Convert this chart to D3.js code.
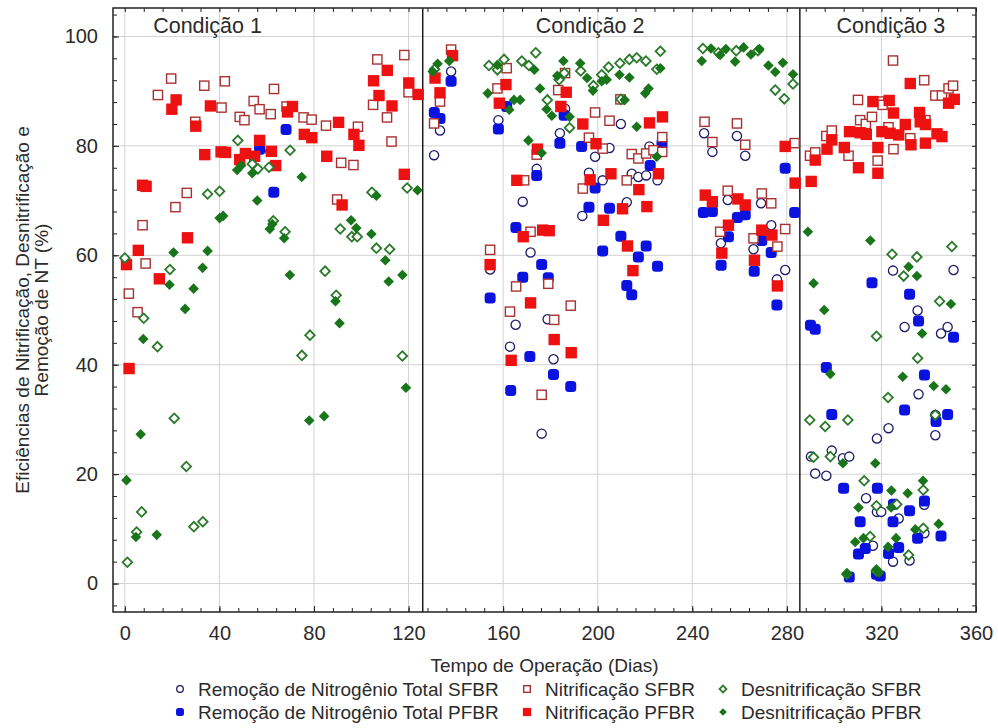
<!DOCTYPE html>
<html lang="pt">
<head>
<meta charset="UTF-8">
<title>Eficiências de Nitrificação, Desnitrificação e Remoção de NT</title>
<script src="https://d3js.org/d3.v7.min.js"></script>
<style>
    body { margin: 0; background: #fff; }
    text { font-family: Arial, "Liberation Sans", sans-serif; fill: #2b2b2b; }
</style>
</head>
<body>
<svg id="main" width="998" height="728"></svg>
<script>
    // [dia, %]
    const remNtSfbr = [[61.5,79],[130.8,78.3],[133.3,82.8],[138,93.6],
        [154.5,57.4],[158,84.7],[168.3,69.8],[171.6,60.5],[174.2,75.8],[184,82.3],[186.2,86.8],[198.9,78],[196.3,75.1],
        [202.1,73.7],[205,79.6],[209.8,84],[193.5,67.2],[212.3,69.7],[214.4,74.9],[217.2,74.3],[220.5,74.6],[221.9,79.9],
        [225.3,73.7],[165.3,47.3],[162.9,43.3],[181.3,41],[176.3,27.4],[178.8,48.3],
        [245,82.3],[248.5,78.9],[258.9,81.8],[262.4,78.2],[255,70.1],[252.1,62.2],[269.1,69.5],[273.4,65.5],[265.9,61.1],
        [275.8,55.6],[279.3,57.3],
        [324.9,57.2],[350.5,57.3],[335.3,49.9],[290.2,23.2],[292,20.1],[296.7,19.7],[299,24.3],[303.7,22.9],[306.4,23.2],
        [313.5,15.6],[316.4,6.9],[318.1,13.1],[319.9,13.1],[318.1,26.5],[323,28.4],[327.3,11.9],[324.9,4],[331.9,4.2],
        [329.8,46.9],[335.7,34.6],[338.1,14.4],[338.2,9.2],[342.8,27.1],[342.8,30.8],[345.2,45.7],[348,46.9]];

    const remNtPfbr = [[57,79.4],[63,71.5],[68.2,83],[130.9,86.1],[133.3,85],[138,91.8],
        [154.5,52.2],[158,83.1],[161.5,87.2],[174.2,74.6],[165.4,65.1],[168.3,56],[176.3,58.3],[179.1,55.9],[184,80.5],
        [185.8,85.6],[193.2,79.9],[198.9,72.3],[202.1,60.8],[196.3,68.8],[205,68.6],[209.8,63.5],[212.3,54.5],[214.4,52.8],
        [217.2,59.7],[220.5,61.7],[222.2,76.4],[225.3,58],[227.2,80.4],[171.3,41.5],[163.2,35.3],[181.3,38.2],[188.6,36],
        [244.7,67.8],[248.5,68],[259.1,66.9],[262.4,67.4],[255.3,63.4],[252.2,58.2],[269.4,62.7],[273.4,60.5],[266.2,57.1],
        [275.8,50.9],[279.3,75.9],[283.3,67.8],
        [290,47.2],[292,46.5],[296.7,39.5],[299,30.9],[304,17.4],[306.4,1.2],[310.3,5.4],[311,11.3],[313.2,6.4],[318.3,17.4],
        [319.5,1.4],[317.9,1.7],[323,5.5],[324.9,11.3],[325.1,14.5],[327.3,6.6],[329.8,31.7],[331.9,13.3],[335.3,8.3],
        [335.7,48],[338.2,38.1],[338.2,15.1],[343.1,29.6],[345.2,8.7],[348,30.9],[350.5,45],[316,55],[331.9,52.9]];

    const nitSfbr = [[1.7,53],[5.4,49.6],[7.5,65.5],[8.8,58.5],[14,89.3],[19.6,92.3],[21.4,68.8],[26.2,71.4],[29.8,84.4],
        [33.6,91],[42.3,91.8],[40.9,87],[48.6,85.3],[50.6,84.7],[54.5,88.2],[57,86.7],[61.7,85.8],[63.1,90.4],[68.4,87.2],
        [75.6,85.2],[79,84.8],[85.1,83.7],[91.5,76.9],[96.7,76.5],[89.8,70.2],[98.6,83.5],[105,87.5],[106.8,95.8],[110.9,85.2],
        [112.8,80.8],[118.2,96.6],[120,89.8],
        [138,97.6],[133.3,88.1],[130.8,84.1],
        [154.5,61],[157.6,90.5],[161.5,94.2],[168.9,73.7],[165.5,54.3],[171.6,64.3],[162.9,49.7],[174.2,78.4],[179.1,54.8],
        [183.3,90.2],[186.2,93.3],[188.6,50.8],[196.3,81.5],[198.9,86.1],[193.7,72.2],[202.1,79.5],[205,84.6],[209.6,88.5],
        [212.3,73.7],[214.4,78.5],[217.2,77.7],[220.5,78.6],[223.6,79.2],[227.3,81.6],[227.3,78.9],[176.3,34.5],[181.6,48.2],
        [245.2,84.4],[248.5,80.7],[258.9,84.1],[262.4,80.2],[255,71.8],[269.4,71.3],[273.4,69.5],[251.8,64.3],[265.9,63.1],
        [276,61.6],[279.3,64.8],[283.3,80.5],
        [289.8,78.2],[292,78.8],[296.7,81.8],[299,82.8],[306.1,78.2],[310.1,88.4],[311,84.7],[313.4,84],[316,85.3],[319.1,88.1],
        [318.4,77.3],[323,83.4],[325.1,79.4],[324.9,95.6],[332.2,81.4],[338.1,92],[338.6,84.7],[342.8,89.2],[345.6,89.2],
        [348.4,90.5],[350.3,91],[320.5,87.5]];

    const nitPfbr = [[0.7,58.3],[1.8,39.3],[5.7,60.9],[7.5,72.8],[9,72.6],[14.6,55.7],[19.9,86.7],[21.7,88.4],[26.5,63.2],
        [30,83.6],[33.8,78.4],[36.2,87.3],[40.7,78.9],[42.6,78.8],[48.6,77.5],[51,78.6],[54.9,78.1],[57,81],[62,79],[63.8,76.4],
        [68.8,86.2],[70.9,87.2],[75.9,82.1],[79.1,81.5],[85.4,78.1],[90.4,84.3],[91.9,69.2],[96.9,82.1],[99,80.1],[105.2,91.9],
        [107.5,89.2],[111,93.8],[113,87.3],[118.2,74.8],[120.1,91.5],[124.1,89.4],
        [131.2,92.4],[133.3,89.7],[138.6,96.5],
        [154.5,58.3],[158.4,87.8],[161.2,91.2],[165.8,73.7],[168.5,63.4],[171.6,51.3],[174.5,79.4],[176.7,64.6],[179.5,64.5],
        [184.4,87.2],[186.7,89.8],[193.7,84],[196.8,73.8],[199.3,80.4],[202.4,66.4],[205.6,74.9],[210.5,68.5],[212.6,61.7],
        [214.9,57.2],[217.4,72],[220.8,68.9],[221.9,84.2],[225.7,74.9],[227.4,85.3],[181.6,44.6],[188.8,42.2],[163.4,40.8],
        [245.5,71],[248.5,69.8],[259.3,70.3],[262.4,69.2],[255.3,65.5],[252.5,60.4],[269.4,64.6],[273.7,63.7],[266.3,59.1],
        [276,54.4],[279.3,79.9],[283.5,73.2],
        [290.3,73.5],[292,77.4],[297,79.4],[299,81.1],[304.3,79.7],[306.5,82.6],[310.3,76],[311,82.4],[313.6,82.1],[316.4,88.1],
        [318.5,79.7],[318.5,75],[320.2,82.6],[323.3,88.3],[323.7,82.3],[325.1,86],[327.3,82],[330.1,83.9],[332.2,91.4],
        [332.5,80.2],[336.1,86.1],[336.4,84.4],[338.6,83.9],[338.6,80.5],[343.5,82.2],[345.6,81.7],[348.4,87.8],[350.8,88.5]];

    const desSfbr = [[0,59.5],[1.1,3.9],[8,48.5],[13.8,43.3],[5,9.4],[7.1,13.1],[20.9,30.2],[26,21.4],[29.2,10.4],[33,11.3],
        [74.9,41.7],[78.3,45.4],[117.4,41.6],[19.1,57.4],[35,71.2],[40.1,71.7],[47.8,81],[53.9,76.7],[56.3,75.8],[61,76.1],
        [69.9,79.2],[62.8,66.3],[67.8,64.3],[84.7,57.1],[89.4,52.7],[91.1,64.8],[96,63.4],[98.3,63.4],[104.5,71.5],[106.4,61.3],
        [112,61.1],[119.4,72.3],
        [131,94],
        [154,94.7],[157.6,93.9],[160.4,95.8],[167.9,95.5],[170.9,94.7],[173.8,97],[178.7,88.4],[183.7,92.1],[185.9,93.3],
        [188.1,83.3],[192.8,93.7],[198.2,91],[201.7,93],[204.6,94.4],[209.4,95.1],[213.4,95.8],[216.5,96.1],[220.4,95.5],
        [225,94],[226.5,97.3],[209.8,88.5],
        [244.5,97.8],[251.1,97],[258.6,97.4],[267.8,97.4],[275.1,90.2],[278.9,88.6],[282.6,91.3],
        [324.5,60.2],[335,59.7],[329.4,56.2],[349.8,61.6],[344.6,51.6],[317.9,45.2],[335.3,41.2],[322.8,34],[289.7,29.9],
        [296.2,28.7],[305.8,29.9],[342.8,30.8],[291.3,23.1],[298.4,23.2],[312.7,18.8],[317.9,14.2],[326.5,14.5],[337.7,17.1],
        [337.7,10.1],[315.2,8.6],[331.5,5.2],[305.4,1.7],[317.9,2.3]];

    const desPfbr = [[0.7,18.9],[4.7,8.5],[6.7,27.3],[7.8,44.7],[13.5,8.9],[25.5,50.2],[78,29.8],[84.3,30.6],[89.1,51.6],
        [90.8,47.6],[118.9,35.8],[18.9,54.6],[20.6,60.5],[29.1,53.9],[32.9,57.7],[35,60.8],[40.1,66.8],[41.6,67.2],[47.5,75.6],
        [49.2,76.4],[53.9,75],[56,70],[61.3,64.8],[62.4,65.7],[67.4,63.1],[69.8,56.4],[74.8,74.3],[95.7,66.4],[97.9,65],
        [104.3,63.9],[106.4,70.9],[110.2,59.1],[111.6,55.2],[117.4,56.4],[123.8,71.9],
        [130.2,93.6],[132.3,95],[137.2,95.5],
        [153.5,89.6],[157.6,94.8],[162.6,86.6],[164.6,88.4],[167.2,88.4],[173.2,93.9],[170.7,81],[175.6,90.5],[176.3,78.7],
        [178.4,86.7],[180.6,85.5],[182.9,92.8],[185.5,95.5],[188.1,85.3],[192.6,95.1],[195.5,92.4],[198,90.1],[201.7,91.8],
        [203.8,92.1],[209.2,93],[213.4,92.5],[216.5,83.5],[220.1,89.6],[221.5,90.5],[226.5,94.2],[225,78],[211.4,88.4],
        [244,95.5],[247.9,97.8],[251.8,96.6],[254.2,97.7],[258.1,95.4],[261.7,98],[264.8,96.7],[268.4,97.7],[272.2,94.7],
        [275.1,93.5],[278.3,95.2],[282.6,93.1],
        [288.9,64.3],[315.3,62.7],[291.3,54.9],[295.8,50],[331.5,57.9],[335,56.2],[349.4,51.1],[298.4,38.3],[337.2,45.7],
        [329,37.8],[342.1,36.1],[347.3,35.5],[303.7,22],[317.4,22],[324.2,17],[331.1,16.5],[337.6,18.8],[310.3,13.9],
        [324.1,13.9],[308.9,7.6],[312.4,8.3],[326.2,8.3],[322.8,6.7],[334.3,9.9],[344.2,10.9],[305.4,1.9],[317.9,2.6],[319,2]];

    const xTicks = [0, 40, 80, 120, 160, 200, 240, 280, 320, 360];
    const yTicks = [0, 20, 40, 60, 80, 100];
    const condNames = ['Condição 1', 'Condição 2', 'Condição 3'];
    const condCenters = [35, 196.8, 324];
    const condLimits = [126, 285.5];

    const seriesNames = ['Remoção de Nitrogênio Total SFBR', 'Remoção de Nitrogênio Total PFBR',
        'Nitrificação SFBR', 'Nitrificação PFBR', 'Desnitrificação SFBR', 'Desnitrificação PFBR'];

    let svg = d3.select('svg#main');
    let plotL = 113, plotR = 976, plotT = 8, plotB = 612;

    let x = d3.scaleLinear().domain([-5, 360]).range([plotL, plotR]);
    let y = d3.scaleLinear().domain([-5.2, 105.2]).range([plotB, plotT]);

    // grid
    svg.append('g').selectAll('line').data(xTicks).join('line')
        .attr('x1', d => x(d)).attr('x2', d => x(d))
        .attr('y1', plotT).attr('y2', plotB)
        .attr('stroke', '#d2d2d2').attr('stroke-width', 1);
    svg.append('g').selectAll('line').data(yTicks).join('line')
        .attr('x1', plotL).attr('x2', plotR)
        .attr('y1', d => y(d)).attr('y2', d => y(d))
        .attr('stroke', '#d2d2d2').attr('stroke-width', 1);

    // condition limits
    svg.append('g').selectAll('line').data(condLimits).join('line')
        .attr('x1', d => x(d)).attr('x2', d => x(d))
        .attr('y1', plotT).attr('y2', plotB)
        .attr('stroke', '#111').attr('stroke-width', 1.4);

    svg.selectAll('.cond').data(condNames).join('text')
        .attr('class', 'cond')
        .attr('x', (d, i) => x(condCenters[i]))
        .attr('y', 33)
        .attr('text-anchor', 'middle')
        .style('font-size', '21.5px')
        .text(d => d);

    // axes (ticks inside the frame)
    let minorX = d3.range(0, 361, 8);
    let minorY = d3.range(-4, 105, 4);

    let xAxis = svg.append('g').attr('transform', `translate(0,${plotB})`)
        .call(d3.axisBottom(x).tickValues(xTicks).tickSize(-6).tickPadding(14));
    svg.append('g').attr('transform', `translate(0,${plotB})`)
        .call(d3.axisBottom(x).tickValues(minorX).tickSize(-4).tickFormat(''));
    svg.append('g').attr('transform', `translate(0,${plotT})`)
        .call(d3.axisTop(x).tickValues(minorX).tickSize(-4).tickFormat(''));

    let yAxis = svg.append('g').attr('transform', `translate(${plotL},0)`)
        .call(d3.axisLeft(y).tickValues(yTicks).tickSize(-6).tickPadding(15));
    svg.append('g').attr('transform', `translate(${plotL},0)`)
        .call(d3.axisLeft(y).tickValues(minorY).tickSize(-4).tickFormat(''));
    svg.append('g').attr('transform', `translate(${plotR},0)`)
        .call(d3.axisRight(y).tickValues(minorY).tickSize(-4).tickFormat(''));

    svg.selectAll('.domain').remove();
    svg.selectAll('.tick line').attr('stroke', '#222');
    xAxis.selectAll('text').style('font-size', '20px').style('font-family', 'Arial, "Liberation Sans", sans-serif').attr('fill', '#2b2b2b');
    yAxis.selectAll('text').style('font-size', '20px').style('font-family', 'Arial, "Liberation Sans", sans-serif').attr('fill', '#2b2b2b');

    // frame
    svg.append('rect')
        .attr('x', plotL).attr('y', plotT)
        .attr('width', plotR - plotL).attr('height', plotB - plotT)
        .attr('fill', 'none').attr('stroke', '#222').attr('stroke-width', 1.5);

    // axis titles
    svg.append('text')
        .attr('x', (plotL + plotR) / 2).attr('y', 672)
        .attr('text-anchor', 'middle').style('font-size', '19px')
        .text('Tempo de Operação (Dias)');
    svg.append('text')
        .attr('transform', 'translate(29,310) rotate(-90)')
        .attr('text-anchor', 'middle').style('font-size', '19px')
        .text('Eficiências de Nitrificação, Desnitrificação e');
    svg.append('text')
        .attr('transform', 'translate(48,310) rotate(-90)')
        .attr('text-anchor', 'middle').style('font-size', '19px')
        .text('Remoção de NT (%)');

    // markers
    function drawMarker(sel, kind, big) {
        let k = big ? 1 : 0.72;
        if (kind === 'openCircle') {
            sel.append('circle').attr('r', 4.6 * k)
                .attr('fill', 'white').attr('stroke', '#1c1c6b').attr('stroke-width', 1.3);
        } else if (kind === 'fillCircle') {
            sel.append('rect').attr('x', -5.5 * k).attr('y', -5.5 * k)
                .attr('width', 11 * k).attr('height', 11 * k).attr('rx', 3.5 * k)
                .attr('fill', '#0a12e0');
        } else if (kind === 'openSquare') {
            sel.append('rect').attr('x', -4.6 * k).attr('y', -4.6 * k)
                .attr('width', 9.2 * k).attr('height', 9.2 * k)
                .attr('fill', 'white').attr('stroke', '#a83232').attr('stroke-width', 1.4);
        } else if (kind === 'fillSquare') {
            sel.append('rect').attr('x', -5.7 * k).attr('y', -5.7 * k)
                .attr('width', 11.4 * k).attr('height', 11.4 * k)
                .attr('fill', '#ee1111');
        } else if (kind === 'openDiamond') {
            sel.append('path').attr('d', d3.symbol().type(d3.symbolSquare).size(46 * k * k)())
                .attr('transform', 'rotate(45)')
                .attr('fill', 'white').attr('stroke', '#2b7a2b').attr('stroke-width', 1.8);
        } else {
            sel.append('path').attr('d', d3.symbol().type(d3.symbolSquare).size(56 * k * k)())
                .attr('transform', 'rotate(45)')
                .attr('fill', '#197519');
        }
    }

    const plotOrder = [
        [remNtSfbr, 'openCircle'], [remNtPfbr, 'fillCircle'],
        [nitSfbr, 'openSquare'], [nitPfbr, 'fillSquare'],
        [desSfbr, 'openDiamond'], [desPfbr, 'fillDiamond']
    ];

    plotOrder.forEach(([data, kind]) => {
        let g = svg.append('g');
        g.selectAll('g').data(data).join('g')
            .attr('transform', d => `translate(${x(d[0])},${y(d[1])})`)
            .each(function () { drawMarker(d3.select(this), kind, true); });
    });

    // legend: 3 columns, SFBR row then PFBR row
    const legendCols = [180, 527, 723];
    const legendRows = [689, 712];
    let legend = svg.selectAll('.legendItem').data(plotOrder).join('g')
        .attr('class', 'legendItem')
        .attr('transform', (d, i) => `translate(${legendCols[Math.floor(i / 2)]},${legendRows[i % 2]})`);
    legend.each(function (d) { drawMarker(d3.select(this), d[1], false); });
    legend.append('text')
        .attr('x', 18).attr('dy', '0.35em')
        .style('font-size', '19px')
        .text((d, i) => seriesNames[i]);
</script>
</body>
</html>
